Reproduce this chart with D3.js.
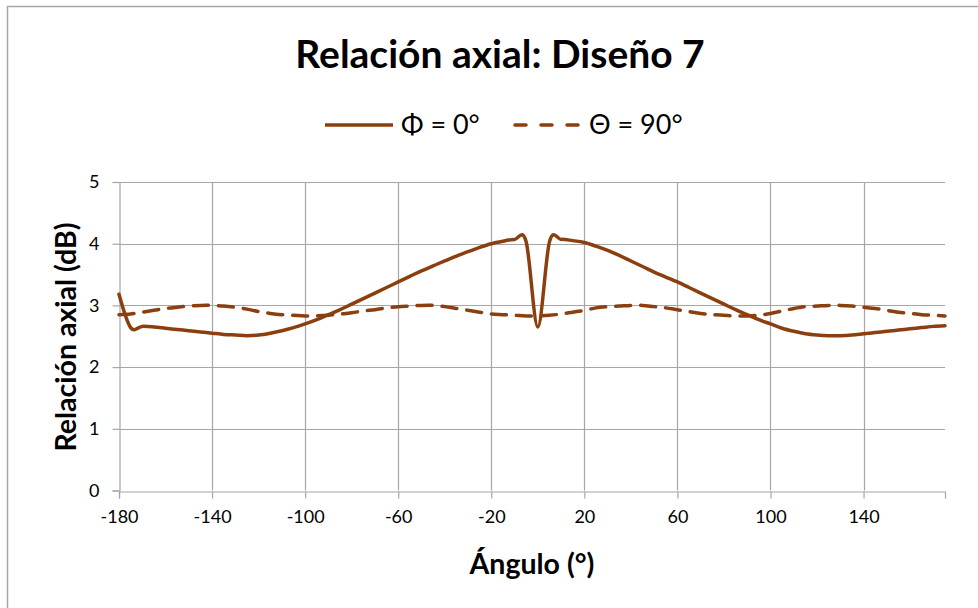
<!DOCTYPE html>
<html>
<head>
<meta charset="utf-8">
<script src="https://cdn.jsdelivr.net/npm/d3@7"></script>
<style>
  html, body { margin: 0; padding: 0; background: #fff; }
  svg { display: block; font-family: Lato, "Open Sans", sans-serif; }
</style>
</head>
<body>
<svg id="chart" width="978" height="608"></svg>
<script>
// Angles (degrees), 5° steps
const angles = d3.range(-180, 180, 5);

// Axial ratio (dB) for the Φ = 0° cut
const phi0 = [
  3.18, 2.64, 2.66, 2.65, 2.63, 2.61, 2.59, 2.57, 2.55, 2.53,
  2.52, 2.51, 2.52, 2.55, 2.59, 2.64, 2.70, 2.77, 2.85, 2.93,
  3.02, 3.11, 3.20, 3.29, 3.38, 3.47, 3.56, 3.64, 3.72, 3.80,
  3.87, 3.94, 4.00, 4.04, 4.07, 4.03, 2.65, 4.03, 4.07, 4.05,
  4.02, 3.96, 3.89, 3.81, 3.72, 3.63, 3.54, 3.46, 3.38, 3.29,
  3.20, 3.11, 3.02, 2.93, 2.85, 2.77, 2.70, 2.63, 2.58, 2.54,
  2.52, 2.51, 2.51, 2.52, 2.54, 2.56, 2.58, 2.60, 2.62, 2.64,
  2.66, 2.67
];

// Axial ratio (dB) for the Θ = 90° cut
const theta90 = [
  2.85, 2.86, 2.89, 2.92, 2.95, 2.97, 2.99, 3.00, 3.00, 2.99,
  2.97, 2.94, 2.90, 2.87, 2.85, 2.84, 2.83, 2.83, 2.84, 2.86,
  2.88, 2.91, 2.93, 2.96, 2.98, 2.99, 3.00, 3.00, 2.98, 2.95,
  2.92, 2.89, 2.86, 2.85, 2.84, 2.83, 2.83, 2.84, 2.86, 2.89,
  2.92, 2.96, 2.98, 2.99, 3.00, 3.00, 2.98, 2.96, 2.93, 2.90,
  2.87, 2.85, 2.84, 2.83, 2.83, 2.84, 2.87, 2.91, 2.95, 2.98,
  2.99, 3.00, 3.00, 2.99, 2.97, 2.95, 2.92, 2.89, 2.87, 2.85,
  2.84, 2.83
];

const xTicks = [-180, -140, -100, -60, -20, 20, 60, 100, 140];
const yTicks = [0, 1, 2, 3, 4, 5];

const seriesNames = ["Φ = 0°", "Θ = 90°"];
const titleText = "Relación axial: Diseño 7";
const xTitle = "Ángulo (°)";
const yTitle = "Relación axial (dB)";

const color = "#8c3f0e";
const gridColor = "#a6a6a6";

const svg = d3.select("#chart");

// outer frame
svg.append("rect")
  .attr("x", 7.5).attr("y", 6.5)
  .attr("width", 980).attr("height", 610)
  .attr("fill", "#fff").attr("stroke", "#a6a6a6").attr("stroke-width", 1.5);

const plot = { left: 119, right: 945, top: 182, bottom: 490.5 };

const x = d3.scaleLinear().domain([-180, 175]).range([plot.left, plot.right]);
const y = d3.scaleLinear().domain([0, 5]).range([plot.bottom, plot.top]);

// horizontal gridlines
svg.append("g").selectAll("line").data(yTicks.filter(d => d > 0)).join("line")
  .attr("x1", plot.left).attr("x2", plot.right)
  .attr("y1", d => Math.round(y(d)) + 0.5).attr("y2", d => Math.round(y(d)) + 0.5)
  .attr("stroke", gridColor).attr("stroke-width", 1.2);

// vertical gridlines
svg.append("g").selectAll("line").data(xTicks.filter(d => d > -180)).join("line")
  .attr("x1", d => Math.round(x(d)) + 0.5).attr("x2", d => Math.round(x(d)) + 0.5)
  .attr("y1", plot.top).attr("y2", plot.bottom)
  .attr("stroke", gridColor).attr("stroke-width", 1.2);

// plain hyphen-minus labels
const fmt = d => String(d);

// y axis
const yAxis = svg.append("g")
  .attr("transform", `translate(${plot.left + 0.5},0)`)
  .call(d3.axisLeft(y).tickValues(yTicks).tickSize(7).tickPadding(13).tickFormat(fmt));
yAxis.select(".domain").attr("stroke", gridColor).attr("stroke-width", 1.2);
yAxis.selectAll(".tick line").attr("stroke", gridColor).attr("stroke-width", 1.2);
yAxis.selectAll("text").attr("font-size", 18).attr("fill", "#000")
  .attr("font-family", "Lato, sans-serif");

// x axis
const xAxis = svg.append("g")
  .attr("transform", `translate(0,${Math.round(plot.bottom) + 0.5})`)
  .call(d3.axisBottom(x).tickValues(xTicks).tickSize(7).tickPadding(12).tickFormat(fmt));
xAxis.select(".domain").attr("stroke", gridColor).attr("stroke-width", 1.2);
xAxis.selectAll(".tick line").attr("stroke", gridColor).attr("stroke-width", 1.2);
xAxis.selectAll("text").attr("font-size", 18).attr("fill", "#000")
  .attr("font-family", "Lato, sans-serif");

// series lines
const line = d3.line()
  .x((d, i) => x(angles[i]))
  .y(d => y(d))
  .curve(d3.curveCatmullRom.alpha(0));

svg.append("path").datum(theta90)
  .attr("d", line)
  .attr("fill", "none").attr("stroke", color)
  .attr("stroke-width", 3.5).attr("stroke-dasharray", "15,10")
  .attr("stroke-linecap", "round");

svg.append("path").datum(phi0)
  .attr("d", line)
  .attr("fill", "none").attr("stroke", color)
  .attr("stroke-width", 3.5).attr("stroke-linejoin", "round")
  .attr("stroke-linecap", "round");

// title
svg.append("text")
  .attr("x", 500).attr("y", 68)
  .attr("text-anchor", "middle")
  .attr("font-size", 39).attr("font-weight", "bold")
  .text(titleText);

// legend
const legend = svg.append("g");
legend.append("line")
  .attr("x1", 325).attr("x2", 393).attr("y1", 125).attr("y2", 125)
  .attr("stroke", color).attr("stroke-width", 3.5);
legend.append("text")
  .attr("x", 401).attr("y", 134)
  .attr("font-size", 27).text(seriesNames[0]);
legend.append("line")
  .attr("x1", 515).attr("x2", 583).attr("y1", 125).attr("y2", 125)
  .attr("stroke", color).attr("stroke-width", 3.5)
  .attr("stroke-dasharray", "11,15").attr("stroke-linecap", "round");
legend.append("text")
  .attr("x", 589).attr("y", 134)
  .attr("font-size", 27).text(seriesNames[1]);

// axis titles
svg.append("text")
  .attr("x", 532).attr("y", 574)
  .attr("text-anchor", "middle")
  .attr("font-size", 28.5).attr("font-weight", "bold")
  .text(xTitle);

svg.append("text")
  .attr("transform", "translate(76,337) rotate(-90)")
  .attr("text-anchor", "middle")
  .attr("font-size", 28.5).attr("font-weight", "bold")
  .text(yTitle);
</script>
</body>
</html>
